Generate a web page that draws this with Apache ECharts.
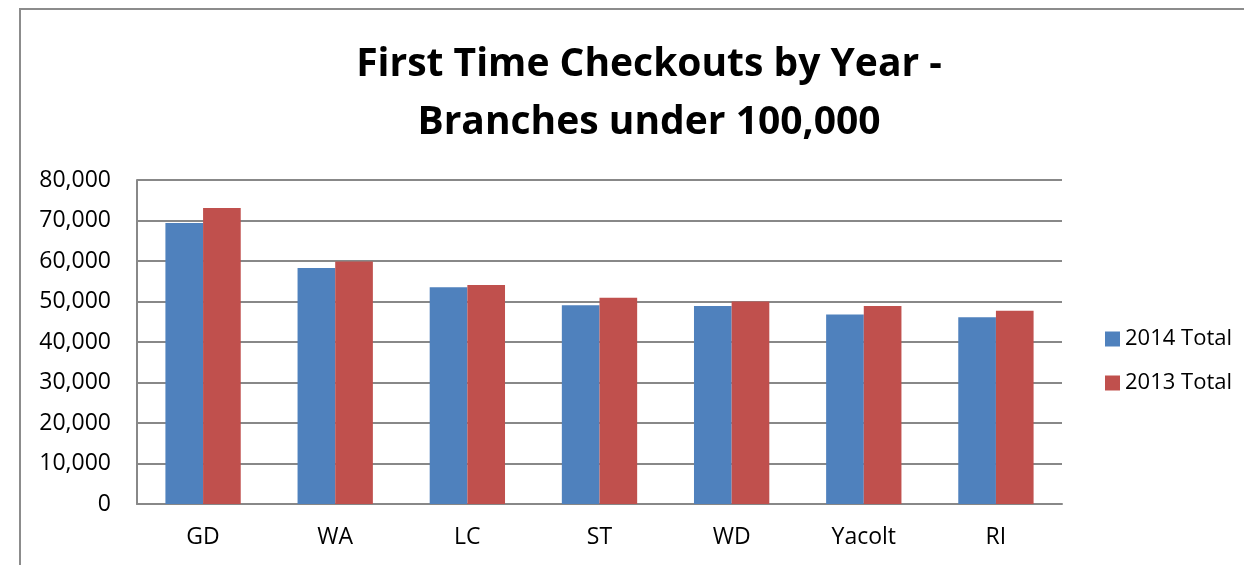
<!DOCTYPE html>
<html lang="en">
<head>
    <meta charset="utf-8">
    <title>First Time Checkouts by Year</title>
    <script type="text/javascript" src="https://cdn.jsdelivr.net/npm/echarts@6/dist/echarts.min.js"></script>
    <style>
        html, body { margin: 0; padding: 0; background: #fff; }
    </style>
</head>
<body>
<div id="main" style="width: 1244px;height:565px;"></div>
<script type="text/javascript">
    // branches and totals
    var branches = ['GD', 'WA', 'LC', 'ST', 'WD', 'Yacolt', 'RI'];
    var total2014 = [69400, 58300, 53500, 49100, 48900, 46800, 46100];
    var total2013 = [73100, 59900, 54100, 50900, 50000, 48900, 47700];
    var yTicks = [0, 10000, 20000, 30000, 40000, 50000, 60000, 70000, 80000];

    var myChart = echarts.init(document.getElementById('main'));

    var fontFamily = '"Open Sans", "Noto Sans", sans-serif';
    var gridColor = '#888888';

    var option = {
        animation: false,
        backgroundColor: '#ffffff',
        textStyle: { fontFamily: fontFamily },
        title: {
            text: 'First Time Checkouts by Year -\nBranches under 100,000',
            left: 644,
            top: 31,
            textAlign: 'center',
            textStyle: {
                fontFamily: fontFamily,
                fontSize: 39,
                fontWeight: 'bold',
                color: '#000',
                lineHeight: 58
            }
        },
        legend: {
            orient: 'vertical',
            left: 1100,
            top: 323,
            itemWidth: 15,
            itemHeight: 15,
            itemGap: 22,
            icon: 'rect',
            textStyle: { fontFamily: fontFamily, fontSize: 22, color: '#000' },
            data: ['2014 Total', '2013 Total']
        },
        grid: {
            left: 137,
            right: 182,
            top: 180,
            bottom: 61,
            containLabel: false
        },
        xAxis: {
            type: 'category',
            data: branches,
            axisLine: { show: true, lineStyle: { color: gridColor, width: 2 } },
            axisTick: { show: false },
            axisLabel: { color: '#000', fontSize: 23, margin: 22 }
        },
        yAxis: {
            type: 'value',
            min: yTicks[0],
            max: yTicks[yTicks.length - 1],
            interval: 10000,
            axisLine: { show: true, lineStyle: { color: gridColor, width: 2 } },
            axisTick: { show: false },
            splitLine: { lineStyle: { color: gridColor, width: 2 } },
            axisLabel: {
                color: '#000',
                fontSize: 23,
                margin: 26,
                formatter: function (v) { return v.toLocaleString('en-US'); }
            }
        },
        series: [{
            name: '2014 Total',
            type: 'bar',
            data: total2014,
            barGap: '0%',
            barCategoryGap: '43%',
            itemStyle: { color: '#4F81BD' }
        }, {
            name: '2013 Total',
            type: 'bar',
            data: total2013,
            itemStyle: { color: '#C0504D' }
        }],
        graphic: [{
            type: 'rect',
            shape: { x: 20, y: 9, width: 1300, height: 600 },
            style: { fill: 'none', stroke: '#8c8c8c', lineWidth: 2 },
            silent: true
        }]
    };

    myChart.setOption(option);
</script>
</body>
</html>
